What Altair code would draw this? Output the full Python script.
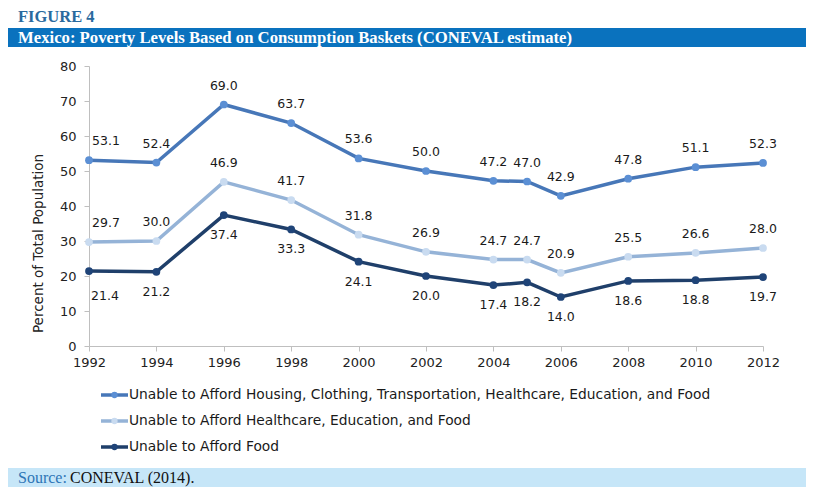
import altair as alt
import pandas as pd

# ---- data ----
years = [1992, 1994, 1996, 1998, 2000, 2002, 2004, 2005, 2006, 2008, 2010, 2012]
series_names = [
    "Unable to Afford Housing, Clothing, Transportation, Healthcare, Education, and Food",
    "Unable to Afford Healthcare, Education, and Food",
    "Unable to Afford Food",
]
housing_all = [53.1, 52.4, 69.0, 63.7, 53.6, 50.0, 47.2, 47.0, 42.9, 47.8, 51.1, 52.3]
health_edu_food = [29.7, 30.0, 46.9, 41.7, 31.8, 26.9, 24.7, 24.7, 20.9, 25.5, 26.6, 28.0]
food_only = [21.4, 21.2, 37.4, 33.3, 24.1, 20.0, 17.4, 18.2, 14.0, 18.6, 18.8, 19.7]
x_ticks = list(range(1992, 2013, 2))
y_ticks = [0, 10, 20, 30, 40, 50, 60, 70, 80]

figure_label = ["FIGURE 4"]
figure_title = ["Mexico: Poverty Levels Based on Consumption Baskets (CONEVAL estimate)"]
source_prefix = ["Source:"]
source_text = ["CONEVAL (2014)."]

line_colors = ["#4777B8", "#95B3D7", "#1F3F6A"]
point_colors = ["#5B8FD4", "#C9DBF0", "#1F4478"]

rows = []
for name, vals in zip(series_names, [housing_all, health_edu_food, food_only]):
    for yr, v in zip(years, vals):
        rows.append({"series": name, "year": yr, "value": v})
df = pd.DataFrame(rows)

W, H = 674, 280
FONT = "DejaVu Sans"
SERIF = "Liberation Serif"

xenc = alt.X("year:Q", scale=alt.Scale(domain=[1992, 2012], nice=False, zero=False),
             axis=alt.Axis(values=x_ticks, format="d", title=None, tickSize=5, labelFlush=False,
                           labelPadding=5, labelFontSize=13, labelFont=FONT,
                           labelColor="#222222"))
yenc = alt.Y("value:Q", scale=alt.Scale(domain=[0, 80], nice=False),
             axis=alt.Axis(values=y_ticks, title="Percent of Total Population",
                           tickSize=5, labelPadding=8, labelFontSize=13, labelFont=FONT,
                           labelColor="#222222", titleFont=FONT, titleFontSize=13.5,
                           titleFontWeight="normal", titleColor="#222222",
                           titleX=-51, titleY=177, titleAngle=270,
                           titleAlign="center", titleBaseline="middle"))

base = alt.Chart(df).encode(x=xenc, y=yenc)

lines = base.mark_line(strokeWidth=3.5).encode(
    color=alt.Color("series:N", scale=alt.Scale(domain=series_names, range=line_colors), legend=None)
)
points = base.mark_circle(size=60, opacity=1).encode(
    fill=alt.Fill("series:N", scale=alt.Scale(domain=series_names, range=point_colors), legend=None)
)

label_kw = dict(font=FONT, fontSize=12.5, color="#1a1a1a", align="center", baseline="middle")
upper = series_names[:2]
lbl_up = base.mark_text(dy=-19, **label_kw).encode(text=alt.Text("value:Q", format=".1f")).transform_filter(
    alt.FieldOneOfPredicate(field="series", oneOf=upper)).transform_filter("datum.year != 1992")
lbl_up0 = base.mark_text(dy=-19, dx=17, **label_kw).encode(text=alt.Text("value:Q", format=".1f")).transform_filter(
    alt.FieldOneOfPredicate(field="series", oneOf=upper)).transform_filter("datum.year == 1992")
lbl_dn = base.mark_text(dy=20, **label_kw).encode(text=alt.Text("value:Q", format=".1f")).transform_filter(
    alt.FieldEqualPredicate(field="series", equal=series_names[2])).transform_filter("datum.year != 1992")
lbl_dn0 = base.mark_text(dy=25, dx=16, **label_kw).encode(text=alt.Text("value:Q", format=".1f")).transform_filter(
    alt.FieldEqualPredicate(field="series", equal=series_names[2])).transform_filter("datum.year == 1992")

main = alt.layer(lines, points, lbl_up, lbl_up0, lbl_dn, lbl_dn0)

# ---- legend (manual) ----
leg_df = pd.DataFrame({"series": series_names})
leg_y = alt.Y("series:N", scale=alt.Scale(type="point", domain=series_names, range=[329, 381], padding=0), axis=None)
leg_base = alt.Chart(leg_df).encode(y=leg_y)
leg_rule = leg_base.mark_rule(strokeWidth=3.5).encode(
    x=alt.value(12), x2=alt.value(39),
    color=alt.Color("series:N", scale=alt.Scale(domain=series_names, range=line_colors), legend=None))
leg_pt = leg_base.mark_circle(size=40, opacity=1).encode(
    x=alt.value(25.5),
    fill=alt.Fill("series:N", scale=alt.Scale(domain=series_names, range=point_colors), legend=None))
leg_txt = leg_base.mark_text(align="left", baseline="middle", font=FONT, fontSize=13.8, color="#1a1a1a").encode(
    x=alt.value(40), text="series:N")
legend = alt.layer(leg_rule, leg_pt, leg_txt)

# ---- header / footer ----
hdr_df = pd.DataFrame({"label": figure_label, "title": figure_title})
hdr = alt.Chart(hdr_df)
hdr_bar = hdr.mark_rect(color="#0A72BE").encode(x=alt.value(-81), x2=alt.value(717), y=alt.value(-38), y2=alt.value(-19))
hdr_lbl = hdr.mark_text(align="left", baseline="middle", font=SERIF, fontSize=16.5, fontWeight="bold",
                        color="#2A6A9E").encode(x=alt.value(-71), y=alt.value(-49), text="label:N")
hdr_title = hdr.mark_text(align="left", baseline="middle", font=SERIF, fontSize=16.7, fontWeight="bold",
                          color="white").encode(x=alt.value(-71), y=alt.value(-28), text="title:N")

src_df = pd.DataFrame({"prefix": source_prefix, "text": source_text})
src = alt.Chart(src_df)
src_bar = src.mark_rect(color="#C6E6F8").encode(x=alt.value(-81), x2=alt.value(717), y=alt.value(402), y2=alt.value(421))
src_pre = src.mark_text(align="left", baseline="middle", font=SERIF, fontSize=16, color="#2E75B6").encode(
    x=alt.value(-71), y=alt.value(411.5), text="prefix:N")
src_txt = src.mark_text(align="left", baseline="middle", font=SERIF, fontSize=16, color="#111111").encode(
    x=alt.value(-19), y=alt.value(411.5), text="text:N")

chart = alt.layer(
    hdr_bar, hdr_lbl, hdr_title, src_bar, src_pre, src_txt, main, legend,
).resolve_scale(y="independent").properties(
    width=W, height=H,
    autosize=alt.AutoSizeParams(type="none"),
    padding={"left": 81, "top": 58, "right": 47, "bottom": 141},
    background="white",
).configure_view(stroke=None).configure_axis(
    grid=False, domainColor="#BFBFBF", tickColor="#BFBFBF", domainWidth=1, tickWidth=1
)

chart.save("out.html", embed_options={"renderer": "svg", "actions": False})
